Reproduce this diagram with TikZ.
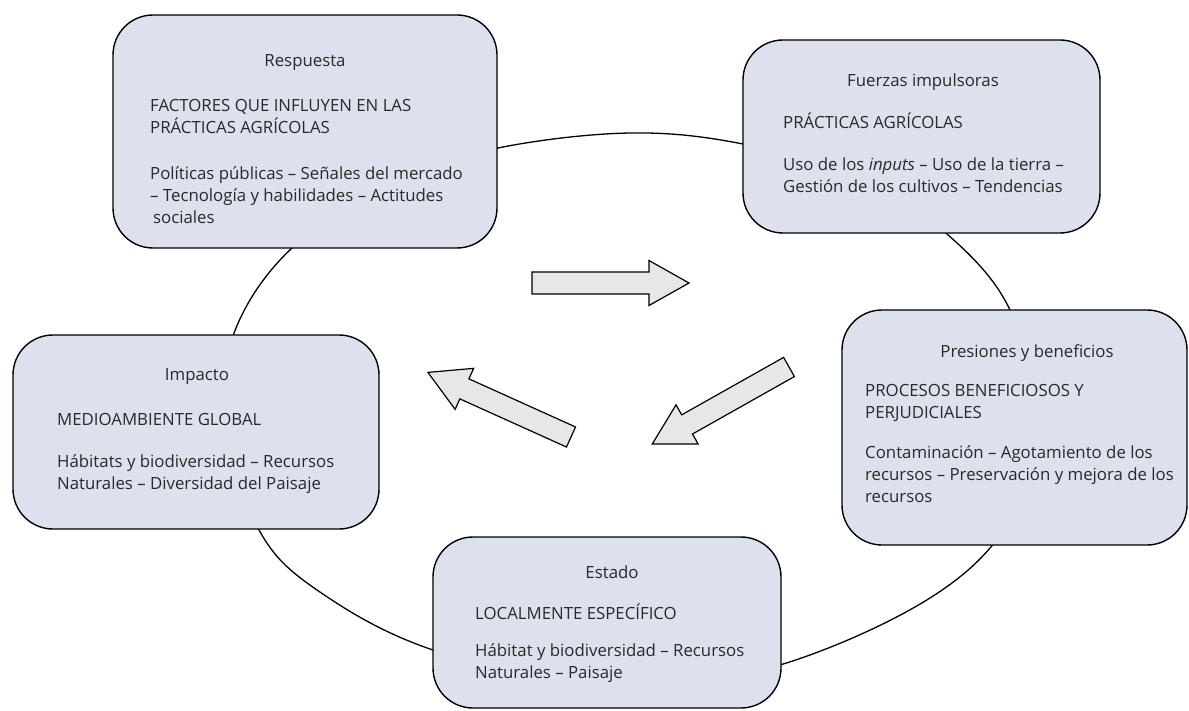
\documentclass[tikz,border=0pt]{standalone}
\usepackage{fontspec}
\setmainfont{Open Sans}
\definecolor{boxfill}{HTML}{DDE1EE}
\definecolor{arrfill}{HTML}{E6E7E8}
\definecolor{txt}{HTML}{2B2829}
\tikzset{
  panel/.style={draw=black, line width=1.4pt, fill=boxfill, rounded corners=40pt, inner sep=0pt},
  ttl/.style={anchor=base, inner sep=0pt, text=txt, font=\fontsize{16.8}{22}\selectfont},
  para/.style={anchor=base west, inner sep=0pt, align=left, text=txt, font=\fontsize{16.8}{22}\selectfont},
  loopline/.style={draw=black, line width=1.3pt},
  blockarrow/.pic={\draw[draw=black, line width=1.2pt, fill=arrfill, line join=miter]
     (0,-11) -- (117,-11) -- (117,-22.5) -- (157,0) -- (117,22.5) -- (117,11) -- (0,11) -- cycle;}
}
\begin{document}
\begin{tikzpicture}[x=1pt,y=-1pt]
\useasboundingbox (0,0) rectangle (1189,711);
% loop
\draw[loopline] plot[smooth cycle, tension=0.6] coordinates {
 (630,133) (743,144) (860,178) (947,234) (1010,310) (1035,420) (1010,520) (930,598)
 (780,665) (620,692) (433,650) (317,590) (259,530) (228,430) (233,336) (292,248)
 (400,180) (498,148)};
% boxes
\node[panel, minimum width=384pt, minimum height=233pt] (resp) at (305,131.5) {};
\node[panel, minimum width=357pt, minimum height=193pt] (fuer) at (921.5,136.5) {};
\node[panel, minimum width=345pt, minimum height=235pt] (pres) at (1014.5,427.5) {};
\node[panel, minimum width=348pt, minimum height=171pt] (esta) at (607,622.5) {};
\node[panel, minimum width=366pt, minimum height=194pt] (impa) at (196,432) {};
% Respuesta
\node[ttl] (respT) at (305,67) {Respuesta};
\node[para] (respH) at (150,134) {FACTORES QUE INFLUYEN EN LAS\\PRÁCTICAS AGRÍCOLAS};
\node[para] (respB) at (150,224) {Políticas públicas – Señales del mercado\\– Tecnología y habilidades – Actitudes\\\hspace{3pt}sociales};
% Fuerzas
\node[ttl] (fuerT) at (923,87) {Fuerzas impulsoras};
\node[para] (fuerH) at (783,129) {PRÁCTICAS AGRÍCOLAS};
\node[para] (fuerB) at (783,193) {Uso de los \textit{inputs} – Uso de la tierra –\\Gestión de los cultivos – Tendencias};
% Presiones
\node[ttl] (presT) at (1027,357) {Presiones y beneficios};
\node[para] (presH) at (865,418) {PROCESOS BENEFICIOSOS Y\\PERJUDICIALES};
\node[para] (presB) at (865,502) {Contaminación – Agotamiento de los\\recursos – Preservación y mejora de los\\recursos};
% Estado
\node[ttl] (estaT) at (612,578) {Estado};
\node[para] (estaH) at (475,619) {LOCALMENTE ESPECÍFICO};
\node[para] (estaB) at (475,678) {Hábitat y biodiversidad – Recursos\\Naturales – Paisaje};
% Impacto
\node[ttl] (impaT) at (197,380) {Impacto};
\node[para] (impaH) at (57,425) {MEDIOAMBIENTE GLOBAL};
\node[para] (impaB) at (57,489) {Hábitats y biodiversidad – Recursos\\Naturales – Diversidad del Paisaje};
% arrows
\pic at (532,283) {blockarrow};
\pic[rotate=209.4] at (789,367) {blockarrow};
\pic[rotate=155.7] at (571,437) {blockarrow};
\end{tikzpicture}
\end{document}
